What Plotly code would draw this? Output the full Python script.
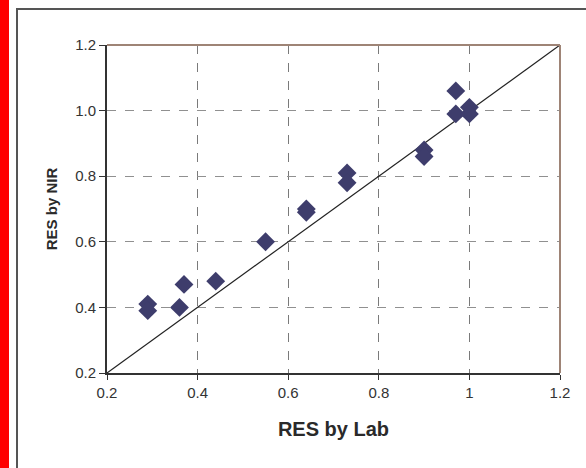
import plotly.graph_objects as go

# Data
res_lab = [0.29, 0.29, 0.36, 0.37, 0.44, 0.55, 0.64, 0.64, 0.73, 0.73, 0.90, 0.90, 0.97, 0.97, 1.00, 1.00]
res_nir = [0.41, 0.39, 0.40, 0.47, 0.48, 0.60, 0.70, 0.69, 0.81, 0.78, 0.88, 0.86, 1.06, 0.99, 1.01, 0.99]
line_x = [0.2, 1.2]
line_y = [0.2, 1.2]
x_ticks = [0.2, 0.4, 0.6, 0.8, 1.0, 1.2]
x_tick_labels = ["0.2", "0.4", "0.6", "0.8", "1", "1.2"]
y_ticks = [0.2, 0.4, 0.6, 0.8, 1.0, 1.2]
y_tick_labels = ["0.2", "0.4", "0.6", "0.8", "1.0", "1.2"]

W, H = 586, 468
ML, MR, MT, MB = 107, 26, 45, 95
PW, PH = W - ML - MR, H - MT - MB

def px(x):
    return (x - ML) / PW

def py(y):
    return (H - MB - y) / PH

fig = go.Figure()
fig.add_trace(go.Scatter(x=line_x, y=line_y, mode="lines",
                         line=dict(color="#222222", width=1.2), hoverinfo="skip",
                         showlegend=False))
fig.add_trace(go.Scatter(x=res_lab, y=res_nir, mode="markers",
                         marker=dict(symbol="diamond", size=14.5, color="#3e3d6c",
                                     line=dict(width=0)),
                         showlegend=False))

font_family = "Liberation Sans, Arial, sans-serif"

fig.update_layout(
    width=W, height=H,
    margin=dict(l=ML, r=MR, t=MT, b=MB),
    paper_bgcolor="white", plot_bgcolor="white",
    font=dict(family=font_family, color="#333333"),
    xaxis=dict(range=[0.2, 1.2], tickvals=x_ticks, ticktext=x_tick_labels,
               showgrid=True, gridcolor="#7a7a7a", griddash="dash", gridwidth=1,
               showline=True, linecolor="#333333", linewidth=2,
               ticks="outside", ticklen=5, tickcolor="#333333",
               tickfont=dict(size=15, color="#333333"),
               zeroline=False,
               title=dict(text="<b>RES by Lab</b>", font=dict(size=20, color="#2a2a2a"),
                          standoff=22)),
    yaxis=dict(range=[0.2, 1.2], tickvals=y_ticks, ticktext=y_tick_labels,
               showgrid=True, gridcolor="#909090", griddash="dash", gridwidth=1,
               showline=True, linecolor="#333333", linewidth=2,
               ticks="outside", ticklen=6, tickcolor="#333333",
               tickfont=dict(size=15, color="#333333"),
               zeroline=False,
               title=dict(text="<b>RES by NIR</b>", font=dict(size=15, color="#2a2a2a"),
                          standoff=14)),
    shapes=[
        # plot area top/right border (brownish)
        dict(type="line", xref="paper", yref="paper", x0=0, x1=1, y0=1, y1=1,
             line=dict(color="#9e8476", width=2), layer="above"),
        dict(type="line", xref="paper", yref="paper", x0=1, x1=1, y0=0, y1=1,
             line=dict(color="#9e8476", width=2), layer="above"),
        # outer dark frame
        dict(type="rect", xref="paper", yref="paper",
             x0=px(17), x1=px(W + 20), y0=py(9), y1=py(H + 20),
             line=dict(color="#555555", width=2), fillcolor="rgba(0,0,0,0)"),
        # red bar at left edge
        dict(type="rect", xref="paper", yref="paper",
             x0=px(0), x1=px(9), y0=py(0), y1=py(H),
             line=dict(width=0), fillcolor="#ff0000"),
    ],
)

fig.write_html("out.html", config={"displayModeBar": False},
               post_script="document.body.style.margin='0';document.body.style.padding='0';")
